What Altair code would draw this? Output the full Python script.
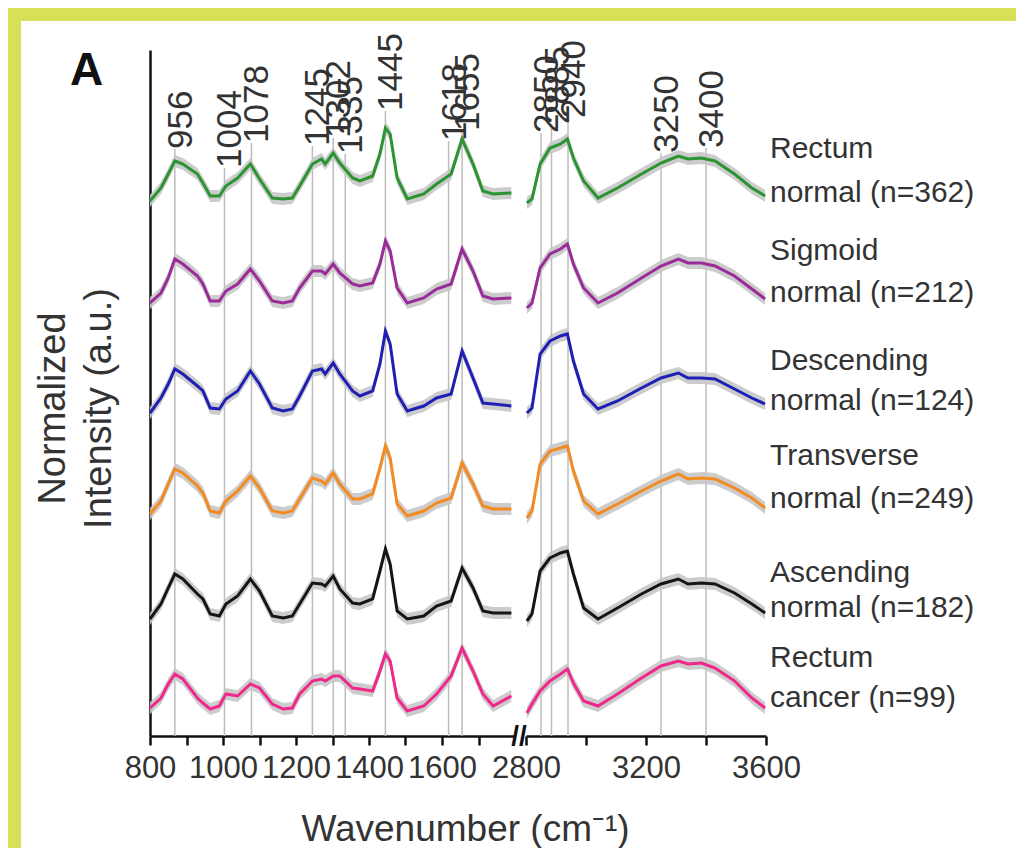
import altair as alt
import pandas as pd

# ---------------- data ----------------
wn_left = [800, 830, 850, 868, 890, 930, 945, 965, 990, 1008, 1040, 1075, 1100, 1135, 1165,
           1190, 1210, 1245, 1270, 1280, 1302, 1320, 1355, 1375, 1410, 1430, 1445, 1458,
           1477, 1505, 1550, 1585, 1625, 1655, 1685, 1712, 1740, 1790]
wn_right = [2803, 2820, 2847, 2880, 2915, 2938, 2958, 2992, 3040, 3105, 3185, 3250, 3308,
            3340, 3385, 3430, 3495, 3553, 3597]

series_names = ["Rectum normal", "Sigmoid normal", "Descending normal",
                "Transverse normal", "Ascending normal", "Rectum cancer"]
series_colors = ["#2a9430", "#9b2b9b", "#1f1fb5", "#f48a22", "#151515", "#f0288c"]
series_sd = [6, 6, 6, 6, 6, 6]

rectum_normal_left = [535, 548, 562, 575, 572, 562, 553, 540, 540, 550, 558, 572, 557, 538, 537,
                      538, 550, 572, 577, 572, 583, 573, 558, 555, 560, 582, 608, 602, 558, 537,
                      542, 552, 562, 597, 572, 545, 542, 543]
rectum_normal_right = [533, 537, 572, 588, 592, 597, 578, 555, 538, 548, 562, 573, 580, 577, 578,
                       575, 562, 548, 540]
sigmoid_left = [433, 443, 458, 477, 472, 460, 452, 435, 435, 445, 452, 467, 455, 435, 433,
                435, 448, 465, 465, 462, 472, 463, 452, 450, 453, 472, 495, 485, 448, 433,
                438, 447, 452, 487, 465, 440, 437, 438]
sigmoid_right = [428, 433, 468, 482, 487, 492, 472, 448, 433, 443, 458, 470, 477, 473, 473,
                 470, 460, 447, 437]
descending_left = [323, 338, 352, 367, 362, 350, 345, 328, 327, 337, 345, 365, 352, 328, 325,
                   327, 340, 365, 367, 362, 373, 362, 345, 340, 345, 372, 405, 392, 342, 325,
                   330, 338, 342, 385, 358, 333, 332, 330]
descending_right = [323, 328, 382, 395, 400, 402, 375, 342, 327, 335, 348, 358, 363, 358, 358,
                    357, 347, 338, 332]
transverse_left = [222, 235, 252, 267, 263, 250, 243, 225, 223, 235, 245, 260, 248, 225, 223,
                   225, 237, 258, 255, 252, 263, 252, 237, 237, 242, 268, 290, 278, 232, 220,
                   225, 233, 238, 273, 252, 230, 227, 227]
transverse_right = [218, 225, 272, 285, 288, 290, 265, 235, 222, 232, 245, 255, 262, 257, 258,
                    257, 248, 238, 228]
ascending_left = [117, 132, 148, 162, 157, 142, 137, 122, 120, 132, 140, 157, 145, 120, 118,
                  120, 132, 153, 152, 150, 160, 147, 133, 132, 137, 165, 187, 172, 125, 117,
                  120, 130, 135, 168, 148, 125, 123, 123]
ascending_right = [115, 122, 165, 178, 183, 185, 162, 128, 117, 128, 142, 152, 157, 152, 153,
                   152, 143, 132, 123]
cancer_left = [28, 38, 52, 62, 57, 38, 33, 27, 30, 42, 40, 52, 48, 32, 27,
               28, 42, 55, 57, 55, 60, 60, 48, 47, 45, 65, 82, 75, 38, 25,
               30, 42, 60, 88, 65, 42, 30, 40]
cancer_right = [23, 32, 45, 55, 62, 67, 53, 35, 30, 42, 58, 70, 75, 72, 73,
                68, 55, 38, 28]

lefts = [rectum_normal_left, sigmoid_left, descending_left, transverse_left,
         ascending_left, cancer_left]
rights = [rectum_normal_right, sigmoid_right, descending_right, transverse_right,
          ascending_right, cancer_right]

peak_labels = ["956", "1004", "1078", "1245", "1302", "1335", "1445", "1618", "1655",
               "2850", "2885", "2940", "3250", "3400"]
peak_pos = [868, 1004, 1078, 1245, 1302, 1335, 1445, 1618, 1655,
            2850, 2885, 2940, 3250, 3400]
peak_top = [587, 568, 593, 590, 598, 582, 625, 595, 605, 603, 612, 618, 583, 588]

legend_line1 = ["Rectum", "Sigmoid", "Descending", "Transverse", "Ascending", "Rectum"]
legend_line2 = ["normal (n=362)", "normal (n=212)", "normal (n=124)",
                "normal (n=249)", "normal (n=182)", "cancer (n=99)"]
legend_h1 = [587, 485, 375, 280, 163, 78]
legend_h2 = [543, 443, 335, 237, 128, 38]

left_ticks = [800, 900, 1000, 1100, 1200, 1300, 1400, 1500, 1600, 1700]
right_ticks = [2800, 3000, 3200, 3400, 3600]

# ---------------- tables ----------------
rows = []
for name, sd, lv, rv in zip(series_names, series_sd, lefts, rights):
    for w, v in zip(wn_left, lv):
        rows.append({"series": name, "wn": w, "h": v, "sd": sd, "seg": "left"})
    for w, v in zip(wn_right, rv):
        rows.append({"series": name, "wn": w, "h": v, "sd": sd, "seg": "right"})
spec = pd.DataFrame(rows)

peaks = pd.DataFrame({"wn": peak_pos, "label": peak_labels, "top": peak_top,
                      "base": [0] * len(peak_pos),
                      "seg": ["left" if p < 2000 else "right" for p in peak_pos]})
legend = pd.DataFrame({"l1": legend_line1, "l2": legend_line2,
                       "h1": legend_h1, "h2": legend_h2})

FONT = "Liberation Sans"
TXT = "#333333"
FRAME = "#d8e058"
W_L, W_R, H = 365, 240, 686

yscale = alt.Scale(domain=[0, 686], nice=False, zero=False)
color_scale = alt.Scale(domain=series_names, range=series_colors)

y_axis = alt.Axis(title=["Normalized", "Intensity (a.u.)"], labels=False, ticks=False,
                  grid=False, domainColor="#111111", domainWidth=2.5,
                  titleFont=FONT, titleFontSize=38, titleFontWeight="normal",
                  titleColor=TXT, titleAngle=270, titleAlign="center",
                  titleBaseline="top", titleX=-116, titleY=358, titleLineHeight=46)

x_axis_left = alt.Axis(values=left_ticks, format="d",
                       labelExpr="datum.value % 200 == 0 ? datum.label : ''",
                       title="Wavenumber (cm⁻¹)", titleX=315, titleY=104,
                       titleAlign="center", titleBaseline="alphabetic",
                       titleFont=FONT, titleFontSize=37, titleFontWeight="normal",
                       titleColor=TXT)
x_axis_right = alt.Axis(values=right_ticks, format="d",
                        labelExpr="datum.value % 400 == 0 ? datum.label : ''",
                        title=None)


def panel(seg, xdom, width, xaxis, yaxis, pre, post):
    xs = alt.Scale(domain=xdom, nice=False, zero=False)
    X = alt.X("wn:Q", scale=xs, axis=xaxis)
    Y = lambda f: alt.Y(f, scale=yscale, axis=yaxis)
    sd = alt.Chart(spec).transform_filter(alt.datum.seg == seg)
    pk = alt.Chart(peaks).transform_filter(alt.datum.seg == seg)
    rules = pk.mark_rule(color="#bcbcbc", strokeWidth=1.5).encode(
        x=X, y=Y("base:Q"), y2="top:Q")
    band = sd.transform_calculate(lo="datum.h - datum.sd", hi="datum.h + datum.sd").mark_area(
        color="#c6c6c6", opacity=0.9).encode(x=X, y=Y("lo:Q"), y2="hi:Q", detail="series:N")
    line = sd.mark_line(strokeWidth=3).encode(
        x=X, y=Y("h:Q"),
        color=alt.Color("series:N", scale=color_scale, legend=None),
        order="wn:Q")
    labels = pk.mark_text(angle=270, align="left", baseline="middle", dy=6,
                          font=FONT, fontSize=35, color=TXT).encode(
        x=X, y=Y("top:Q"), text="label:N")
    layers = pre() + [rules, band, line, labels] + post(X, Y)
    return alt.layer(*layers).properties(width=width, height=H)


def left_pre():
    # the yellow frame round the figure (top and left edges)
    frame = pd.DataFrame({"k": [0]})
    top = alt.Chart(frame).mark_rect(color=FRAME).encode(
        x=alt.value(-142), x2=alt.value(866), y=alt.value(-42), y2=alt.value(-29))
    side = alt.Chart(frame).mark_rect(color=FRAME).encode(
        x=alt.value(-142), x2=alt.value(-129), y=alt.value(-42), y2=alt.value(798))
    return [top, side]


def left_post(X, Y):
    a = alt.Chart(pd.DataFrame({"panel": ["A"]})).mark_text(
        font=FONT, fontSize=46, fontWeight="bold", color="#111111",
        align="left", baseline="alphabetic").encode(
        x=alt.value(-80), y=alt.value(35), text="panel:N")
    return [a]


def right_post(X, Y):
    brk = alt.Chart(pd.DataFrame({"mark": ["//"]})).mark_text(
        font=FONT, fontSize=28, fontWeight="bold", color="#111111",
        align="center", baseline="middle").encode(
        x=alt.value(-7), y=alt.value(H + 1), text="mark:N")
    l1 = alt.Chart(legend).mark_text(font=FONT, fontSize=30, color=TXT, align="left",
                                     baseline="middle", dx=4).encode(
        x=alt.datum(3600), y=Y("h1:Q"), text="l1:N")
    l2 = alt.Chart(legend).mark_text(font=FONT, fontSize=30, color=TXT, align="left",
                                     baseline="middle", dx=4).encode(
        x=alt.datum(3600), y=Y("h2:Q"), text="l2:N")
    return [brk, l1, l2]


left = panel("left", [800, 1800], W_L, x_axis_left, y_axis, left_pre, left_post)
right = panel("right", [2800, 3600], W_R, x_axis_right, None, lambda: [], right_post)

chart = alt.hconcat(left, right, spacing=11, bounds="flush").properties(
    padding={"left": 0, "top": 0, "right": 0, "bottom": 0}
).configure_view(stroke=None).configure_axis(
    domainColor="#111111", domainWidth=2.5, tickColor="#111111", tickWidth=2.5,
    tickSize=9, labelFont=FONT, labelFontSize=31, labelColor=TXT, labelPadding=8,
    labelFlush=False, labelOverlap=False, grid=False
)

chart.save("out.html", embed_options={"renderer": "svg", "actions": False})
